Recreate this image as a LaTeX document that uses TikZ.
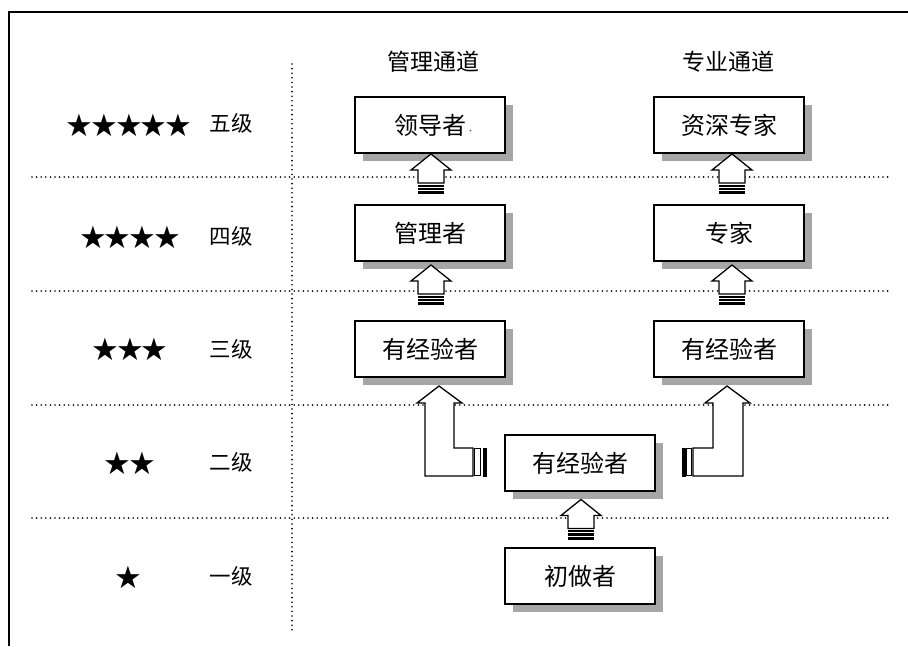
\documentclass[tikz,border=0pt]{standalone}
\usepackage{fontspec}
\newfontfamily\cjk{Noto Sans CJK SC}
\newfontfamily\symfont[LetterSpace=-10]{DejaVu Sans}
\usetikzlibrary{shadows,calc}
\tikzset{
  box/.style={draw, line width=1.3pt, fill=white, minimum width=150pt, minimum height=56pt,
    inner sep=0pt, font=\cjk\fontsize{24}{24}\selectfont,
    drop shadow={shadow xshift=8pt, shadow yshift=-8pt, fill=black!35, opacity=1}},
  head/.style={font=\cjk\fontsize{23}{23}\selectfont},
  lvl/.style={font=\cjk\fontsize{21.5}{21.5}\selectfont},
  stars/.style={font=\symfont\fontsize{31}{31}\selectfont},
  dotline/.style={line width=1.8pt, dash pattern=on 0pt off 4.6pt, line cap=round},
  arr/.style={draw, line width=1.3pt, fill=white, line join=miter},
  pics/uparrow/.style={code={
    \draw[arr] (0,-22) -- (20,-6) -- (13,-6) -- (13,7) -- (-13,7) -- (-13,-6) -- (-20,-6) -- cycle;
    \fill (-13,8.5) rectangle (13,10.8);
    \fill (-13,11.8) rectangle (13,14.1);
    \fill (-13,15.1) rectangle (13,18.2);
  }}
}
\begin{document}
\begin{tikzpicture}[x=1pt, y=-1pt]
\useasboundingbox (0,0) rectangle (908,646);
% frame
\draw[line width=2.6pt] (9,646) -- (9,12) -- (908,12);
% grid
\draw[dotline] (292,64) -- (292,632);
\foreach \yy in {177,291,405,518} \draw[dotline] (32,\yy) -- (888,\yy);
% headings
\node[head] (h1) at (433,62) {管理通道};
\node[head] (h2) at (728,62) {专业通道};
% stars and levels
\node[stars] (s5) at (129,125) {★★★★★};
\node[stars] (s4) at (130,237) {★★★★};
\node[stars] (s3) at (130,349) {★★★};
\node[stars] (s2) at (130,463) {★★};
\node[stars] (s1) at (128,577) {★};
\node[lvl] (l5) at (231,123) {五级};
\node[lvl] (l4) at (231,236) {四级};
\node[lvl] (l3) at (231,349) {三级};
\node[lvl] (l2) at (231,462) {二级};
\node[lvl] (l1) at (231,576) {一级};
% boxes
\node[box] (a5) at (430,125) {领导者\makebox[0pt][l]{\color{black!60}\fontsize{9}{9}\selectfont·}};
\node[box] (a4) at (430,233) {管理者};
\node[box] (a3) at (430,349) {有经验者};
\node[box] (b5) at (729,125) {资深专家};
\node[box] (b4) at (729,233) {专家};
\node[box] (b3) at (729,349) {有经验者};
\node[box] (c2) at (580,463) {有经验者};
\node[box] (c1) at (580,576) {初做者};
% small arrows
\pic at ($(a4.north)!0.5!(a5.south)+(1,-3)$) {uparrow};
\pic at ($(a3.north)!0.5!(a4.south)+(1,-4)$) {uparrow};
\pic at ($(b4.north)!0.5!(b5.south)+(3,-3)$) {uparrow};
\pic at ($(b3.north)!0.5!(b4.south)+(3,-4)$) {uparrow};
\pic at ($(c1.north)!0.5!(c2.south)+(1,2)$) {uparrow};
% L arrows
\draw[arr] (439,386) -- (462,403) -- (454,403) -- (454,448) -- (473,448) -- (473,476) -- (425,476) -- (425,403) -- (417,403) -- cycle;
\draw[line width=1.1pt] (474.5,448.5) rectangle (480.5,475.5);
\fill (482.5,447.5) rectangle (486.5,476.5);
\draw[arr] (727,386) -- (750,403) -- (743,403) -- (743,476) -- (693,476) -- (693,448) -- (713,448) -- (713,403) -- (705,403) -- cycle;
\draw[line width=1.1pt] (686.5,448.5) rectangle (691.5,475.5);
\fill (681.5,447.5) rectangle (685.5,476.5);
\end{tikzpicture}
\end{document}
